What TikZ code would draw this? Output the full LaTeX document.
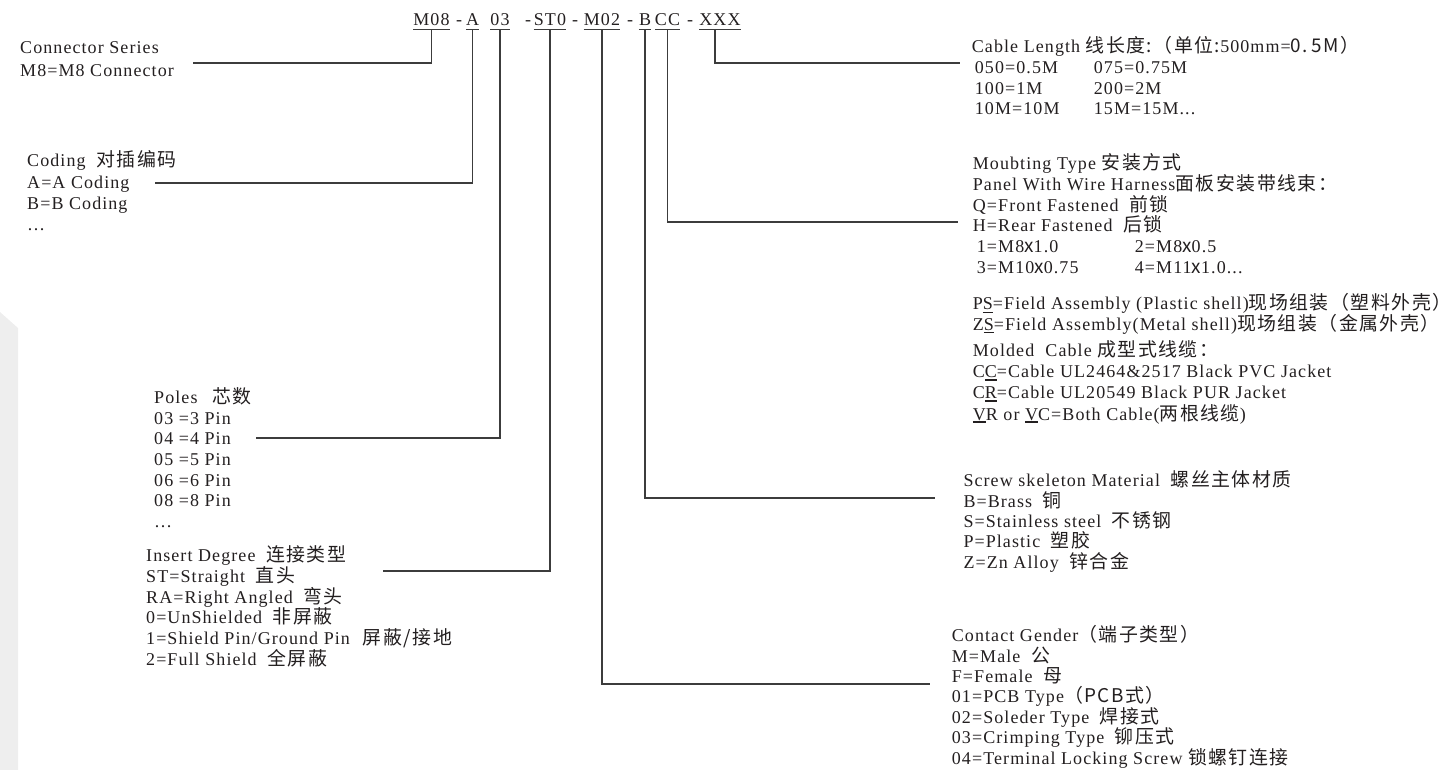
\documentclass[tikz,border=0pt]{standalone}
\usepackage{fontspec}
\setmainfont{Liberation Serif}[LetterSpace=6]
\newfontfamily\cjk{Noto Sans CJK SC}[LetterSpace=8, Scale=1.05]
\definecolor{ink}{RGB}{35,31,32}
\definecolor{wire}{RGB}{60,60,60}
\definecolor{panel}{RGB}{238,238,238}
\newcommand\zh[1]{{\cjk #1}}
\newcommand\zhs[1]{\hspace{5pt}{\cjk #1}}
\newcommand\ulbar[2][0.8pt]{\leavevmode\setbox0\hbox{#2}\rlap{\rule[-3pt]{\wd0}{#1}}\box0}

\begin{document}
\begin{tikzpicture}[x=1pt,y=-1pt,
  codepart/.style={font=\fontsize{18}{20}\selectfont, text=ink, inner xsep=0pt, inner ysep=3pt, anchor=base},
  desc/.style={font=\fontsize{18}{20.7}\selectfont, text=ink, align=left, inner sep=0pt, anchor=base west},
  leader/.style={draw=wire, line width=1.1pt}]
\path[use as bounding box] (0,0) rectangle (1451,770);
\fill[panel] (0,312) -- (18,328) -- (18,770) -- (0,770) -- cycle;

% part number
\node[codepart] (cM08) at (431.5,26) {M08};
\node[codepart] (cA)   at (472.5,26) {A};
\node[codepart] (c03)  at (500,26)   {03};
\node[codepart] (cST0) at (550,26)   {ST0};
\node[codepart] (cM02) at (602,26)   {M02};
\node[codepart] (cB)   at (645,26)   {B};
\node[codepart] (cCC)  at (667.5,26) {CC};
\node[codepart] (cXXX) at (720,26)   {XXX};
\foreach \x [count=\i] in {459,528,575,630,690}
  \node[codepart] (dash\i) at (\x,26) {-};
\foreach \n in {cM08,cA,c03,cST0,cM02,cB,cCC,cXXX}
  \draw[leader, line width=0.9pt] (\n.south west) -- (\n.south east);

% left column (each block is placed by the baseline of its last line)
\node[desc, font=\fontsize{18}{22.7}\selectfont] (dSeries) at (20,76.7) {Connector Series\\M8=M8 Connector};
\node[desc, font=\fontsize{18}{21.5}\selectfont] (dCoding) at (27,231) {Coding \zhs{对插编码}\\A=A Coding\\B=B Coding\\\dots};
\node[desc] (dPoles) at (154,527.5) {Poles\hspace{15pt}\zh{芯数}\\03 =3 Pin\\04 =4 Pin\\05 =5 Pin\\06 =6 Pin\\08 =8 Pin\\\dots};
\node[desc] (dInsert) at (146,665.2) {Insert Degree \zhs{连接类型}\\ST=Straight \zhs{直头}\\RA=Right Angled \zhs{弯头}\\0=UnShielded \zhs{非屏蔽}\\1=Shield Pin/Ground Pin\hspace{8pt}\zhs{屏蔽/接地}\\2=Full Shield \zhs{全屏蔽}};

% right column
\node[desc] (dCable) at (971.7,115) {Cable Length \zh{线长度:（单位:}500mm=\zh{0.\,5M）}\\
  \hspace*{3pt}\makebox[119pt][l]{050=0.5M}075=0.75M\\
  \hspace*{3pt}\makebox[119pt][l]{100=1M}200=2M\\
  \hspace*{3pt}\makebox[119pt][l]{10M=10M}15M=15M...};
\node[desc] (dMount) at (972.7,273.3) {Moubting Type \zh{安装方式}\\Panel With Wire Harness\zh{面板安装带线束：}\\Q=Front Fastened \zhs{前锁}\\H=Rear Fastened \zhs{后锁}\\
  \hspace*{4pt}\makebox[158pt][l]{1=M8\zh{x}1.0}2=M8\zh{x}0.5\\
  \hspace*{4pt}\makebox[158pt][l]{3=M10\zh{x}0.75}4=M11\zh{x}1.0...};
\node[desc] (dShell) at (972.7,330) {P\ulbar{S}=Field Assembly (Plastic shell)\zh{现场组装（塑料外壳）}\\Z\ulbar{S}=Field Assembly(Metal shell)\zh{现场组装（金属外壳）}};
\node[desc, font=\fontsize{18}{21.1}\selectfont] (dMolded) at (972.7,420) {Molded\ \ Cable \zh{成型式线缆：}\\C\ulbar[1.6pt]{C}=Cable UL2464\&2517 Black PVC Jacket\\C\ulbar[1.6pt]{R}=Cable UL20549 Black PUR Jacket\\\ulbar[1.6pt]{V}R or \ulbar[1.6pt]{V}C=Both Cable(\zh{两根线缆})};
\node[desc, font=\fontsize{18}{20.4}\selectfont] (dScrew) at (963.3,568.3) {Screw skeleton Material \zhs{螺丝主体材质}\\B=Brass \zhs{铜}\\S=Stainless steel \zhs{不锈钢}\\P=Plastic \zhs{塑胶}\\Z=Zn Alloy \zhs{锌合金}};
\node[desc, font=\fontsize{18}{20.4}\selectfont] (dGender) at (951.7,764) {Contact Gender\zh{（端子类型）}\\M=Male \zhs{公}\\F=Female \zhs{母}\\01=PCB Type\zh{（PCB式）}\\02=Soleder Type \zhs{焊接式}\\03=Crimping Type \zhs{铆压式}\\04=Terminal Locking Screw \zh{锁螺钉连接}};

% leader lines
\coordinate (eSeries) at (193,63);
\coordinate (eCoding) at (155,183);
\coordinate (ePoles)  at (256,438);
\coordinate (eInsert) at (383,571);
\coordinate (eGender) at (930,684);
\coordinate (eScrew)  at (935,498);
\coordinate (eMount)  at (958,222);
\coordinate (eCable)  at (960,63);
\draw[leader] (cM08.south) |- (eSeries);
\draw[leader] (cA.south) |- (eCoding);
\draw[leader] (c03.south) |- (ePoles);
\draw[leader] (cST0.south) |- (eInsert);
\draw[leader] (cM02.south) |- (eGender);
\draw[leader] (cB.south) |- (eScrew);
\draw[leader] (cCC.south) |- (eMount);
\draw[leader] ([xshift=-5pt]cXXX.south) |- (eCable);
\end{tikzpicture}
\end{document}
